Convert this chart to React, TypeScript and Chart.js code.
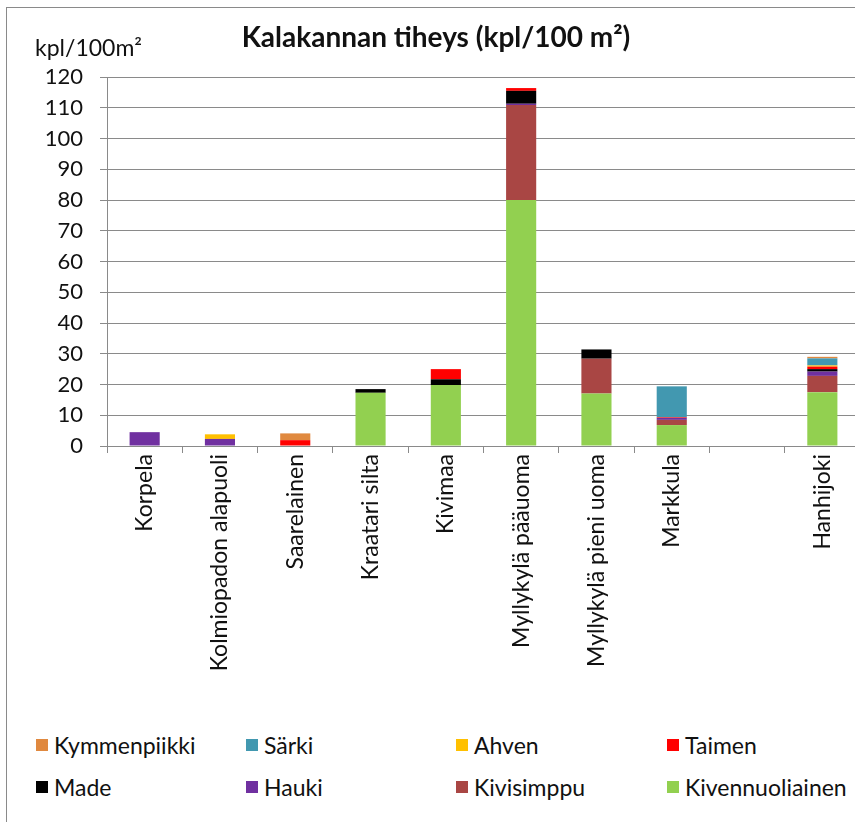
import React, { useEffect, useRef } from "react";
import { Chart, registerables } from "chart.js";

Chart.register(...registerables);

const categories = [
  "Korpela",
  "Kolmiopadon alapuoli",
  "Saarelainen",
  "Kraatari silta",
  "Kivimaa",
  "Myllykylä pääuoma",
  "Myllykylä pieni uoma",
  "Markkula",
  "",
  "Hanhijoki",
];

// stacked bottom -> top
const kivennuoliainen = [0, 0, 0, 17.3, 19.8, 80, 17.1, 6.8, 0, 17.5];
const kivisimppu = [0, 0, 0, 0, 0, 30.9, 11.3, 1.7, 0, 5.3];
const hauki = [4.5, 2.3, 0, 0, 0, 0.4, 0, 0.6, 0, 1.4];
const made = [0, 0, 0, 1.2, 1.9, 4.2, 3.0, 0, 0, 0.8];
const taimen = [0, 0, 1.9, 0, 3.3, 0.9, 0, 0.2, 0, 0.8];
const ahven = [0, 1.5, 0, 0, 0, 0, 0, 0, 0, 0.4];
const sarki = [0, 0, 0, 0, 0, 0, 0, 10.1, 0, 2.3];
const kymmenpiikki = [0, 0, 2.2, 0, 0, 0, 0, 0, 0, 0.5];

const seriesNames = [
  "Kivennuoliainen",
  "Kivisimppu",
  "Hauki",
  "Made",
  "Taimen",
  "Ahven",
  "Särki",
  "Kymmenpiikki",
];
const seriesValues = [kivennuoliainen, kivisimppu, hauki, made, taimen, ahven, sarki, kymmenpiikki];
const seriesColors = [
  "#92D050",
  "#A94644",
  "#7030A0",
  "#000000",
  "#FF0000",
  "#FFC000",
  "#4298B0",
  "#E0893F",
];

const yMin = 0;
const yMax = 120;
const yStep = 10;

const titleText = "Kalakannan tiheys (kpl/100 m²)";
const unitText = "kpl/100m²";

const FONT = "Lato, 'Open Sans', sans-serif";
const GRID = "#8a8a8a";

export default function App() {
  const ref = useRef<HTMLCanvasElement | null>(null);

  useEffect(() => {
    if (!ref.current) return;
    const textPlugin = {
      id: "texts",
      afterDraw(chart: any) {
        const ctx = chart.ctx;
        ctx.save();
        ctx.fillStyle = "#111";
        ctx.textBaseline = "alphabetic";
        ctx.font = `bold 28px ${FONT}`;
        ctx.textAlign = "center";
        ctx.fillText(titleText, 436, 47);
        ctx.font = `23px ${FONT}`;
        ctx.textAlign = "left";
        ctx.fillText(unitText, 35, 56);
        ctx.restore();
      },
    };
    const chart = new Chart(ref.current, {
      type: "bar",
      data: {
        labels: categories,
        datasets: seriesNames.map((name, i) => ({
          label: name,
          data: seriesValues[i],
          backgroundColor: seriesColors[i],
          borderWidth: 0,
          barPercentage: 0.4,
          categoryPercentage: 1,
        })),
      },
      options: {
        animation: false,
        responsive: false,
        maintainAspectRatio: false,
        layout: { padding: { top: 77, right: 6, left: 0, bottom: 0 } },
        plugins: {
          legend: { display: false },
          title: { display: false },
          tooltip: { enabled: false },
        },
        scales: {
          x: {
            stacked: true,
            grid: {
              drawOnChartArea: false,
              drawTicks: true,
              tickLength: 7,
              color: GRID,
              offset: true,
            },
            border: { color: GRID, width: 1 },
            ticks: {
              autoSkip: false,
              maxRotation: 90,
              minRotation: 90,
              padding: 1,
              color: "#111",
              font: { family: FONT, size: 23 },
            },
            afterFit(scale: any) {
              scale.height = 720 - 446;
            },
          },
          y: {
            stacked: true,
            min: yMin,
            max: yMax,
            ticks: {
              stepSize: yStep,
              padding: 17,
              color: "#111",
              font: { family: FONT, size: 22 },
            },
            grid: { color: GRID, tickLength: 7, lineWidth: 1 },
            border: { color: GRID, width: 1 },
            afterFit(scale: any) {
              scale.width = 107;
            },
          },
        },
      },
      plugins: [textPlugin],
    });
    return () => chart.destroy();
  }, []);

  const legendOrder = [...seriesNames.keys()].reverse();
  const legendLefts = [36, 246, 456, 667];

  return (
    <div
      style={{
        position: "absolute",
        left: 0,
        top: 0,
        width: 855,
        height: 822,
        overflow: "hidden",
        background: "#fff",
        fontFamily: FONT,
      }}
    >
      <div
        style={{
          position: "absolute",
          left: 6,
          top: 7,
          width: 900,
          height: 900,
          border: "1px solid #8a8a8a",
        }}
      />
      <canvas
        ref={ref}
        width={866}
        height={720}
        style={{ position: "absolute", left: 0, top: 0, width: 866, height: 720 }}
      />
      {legendOrder.map((idx, k) => {
        const col = k % 4;
        const row = Math.floor(k / 4);
        return (
          <div
            key={idx}
            style={{
              position: "absolute",
              left: legendLefts[col],
              top: 731 + row * 42,
              height: 28,
              display: "flex",
              alignItems: "center",
              fontSize: 23,
              color: "#111",
              whiteSpace: "nowrap",
            }}
          >
            <span
              style={{
                display: "inline-block",
                width: 12,
                height: 12,
                background: seriesColors[idx],
                marginRight: 6,
              }}
            />
            {seriesNames[idx]}
          </div>
        );
      })}
    </div>
  );
}
